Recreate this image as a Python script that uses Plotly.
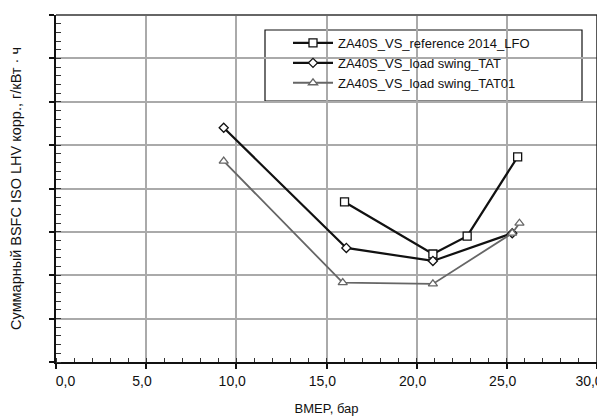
import plotly.graph_objects as go

ref_x = [16.0, 20.9, 22.8, 25.6]
ref_y = [3.69, 2.49, 2.90, 4.73]
tat_x = [9.3, 16.1, 20.9, 25.3]
tat_y = [5.40, 2.63, 2.33, 2.97]
tat01_x = [9.3, 15.9, 20.9, 25.3, 25.7]
tat01_y = [4.63, 1.83, 1.80, 2.97, 3.20]
names = ["ZA40S_VS_reference 2014_LFO", "ZA40S_VS_load swing_TAT", "ZA40S_VS_load swing_TAT01"]
x_ticks = [0, 5, 10, 15, 20, 25, 30]
x_labels = ["0,0", "5,0", "10,0", "15,0", "20,0", "25,0", "30,0"]

NB = "\u00a0"
# small per-label nudges so the labels sit as in the reference
x_ticktext = [NB * 9 + x_labels[0]] + [NB * 2 + t for t in x_labels[1:-1]] + [x_labels[-1]]

FONT = "Liberation Sans, Arial, sans-serif"

# page has an 8px body margin; compensate so the plot area lands at page px 56..597 x 15..362
OFF = 8
W, H = 605 - OFF, 416 - OFF
L, T = 56 - OFF, 15 - OFF
R = W - (597 - OFF)
B = H - (362 - OFF)
PW, PH = W - L - R, H - T - B

def px(xp):
    return (xp - OFF - L) / PW

def py(yp):
    return (H - B - (yp - OFF)) / PH

fig = go.Figure()
fig.add_trace(go.Scatter(x=ref_x, y=ref_y, name=names[0], mode="lines+markers",
                         line=dict(color="#111111", width=2.2),
                         marker=dict(symbol="square", size=8, color="white",
                                     line=dict(color="#111111", width=1.3))))
fig.add_trace(go.Scatter(x=tat_x, y=tat_y, name=names[1], mode="lines+markers",
                         line=dict(color="#111111", width=2.2),
                         marker=dict(symbol="diamond", size=7, color="white",
                                     line=dict(color="#111111", width=1.3))))
fig.add_trace(go.Scatter(x=tat01_x, y=tat01_y, name=names[2], mode="lines+markers",
                         line=dict(color="#666666", width=1.8),
                         marker=dict(symbol="triangle-up", size=8, color="white",
                                     line=dict(color="#666666", width=1.3))))

fig.update_layout(
    width=W, height=H,
    margin=dict(l=L, r=R, t=T, b=B, autoexpand=False),
    paper_bgcolor="white", plot_bgcolor="white",
    font=dict(family=FONT, size=13, color="#111111"),
    showlegend=True,
    legend=dict(x=px(288), y=py(28), xanchor="left", yanchor="top",
                bgcolor="rgba(0,0,0,0)", borderwidth=0,
                font=dict(family=FONT, size=13, color="#111111"),
                itemwidth=40, tracegroupgap=0),
    xaxis=dict(range=[0, 30], tickvals=x_ticks, ticktext=x_ticktext, automargin=False,
               ticklabeloverflow="allow", ticklabelshift=-8,
               showgrid=True, gridcolor="#aaaaaa", gridwidth=1.5,
               showline=True, linecolor="#111111", linewidth=1.5,
               ticks="outside", ticklen=5, tickcolor="#111111", tickwidth=1.5,
               minor=dict(dtick=1, ticks="inside", ticklen=4, tickcolor="#333333",
                          tickwidth=1.2, showgrid=False),
               tickfont=dict(size=14),
               title=dict(text="BMEP, бар", font=dict(size=13), standoff=16),
               zeroline=False, fixedrange=True),
    yaxis=dict(range=[0, 8], dtick=1, showticklabels=False, automargin=False,
               showgrid=True, gridcolor="#aaaaaa", gridwidth=1.5,
               showline=True, linecolor="#111111", linewidth=2,
               ticks="outside", ticklen=5, tickcolor="#111111", tickwidth=1.5,
               minor=dict(dtick=0.2, ticks="inside", ticklen=5, tickcolor="#333333",
                          tickwidth=1.2, showgrid=False),
               title=dict(text="Суммарный BSFC ISO LHV корр., г/кВт · ч" + NB * 9,
                          font=dict(size=14.5), standoff=29),
               zeroline=False, fixedrange=True),
)
fig.add_shape(type="rect", xref="paper", yref="paper",
              x0=px(265), x1=px(582), y0=py(101), y1=py(30),
              line=dict(color="#111111", width=1.2), fillcolor="white", layer="below")
fig.add_shape(type="line", xref="paper", yref="paper", x0=0, x1=1, y0=1, y1=1,
              line=dict(color="#666666", width=2))
fig.add_shape(type="line", xref="paper", yref="paper", x0=1, x1=1, y0=0, y1=1,
              line=dict(color="#222222", width=1.5))

fig.write_html("out.html")
